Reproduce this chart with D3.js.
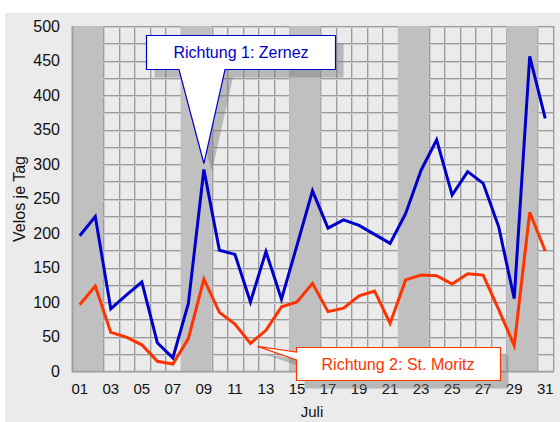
<!DOCTYPE html>
<html><head><meta charset="utf-8">
<script src="https://cdn.jsdelivr.net/npm/d3@7"></script>
<style>html,body{margin:0;padding:0;background:#fff;}svg{display:block;font-family:"Liberation Sans",Arial,sans-serif;}</style>
</head><body>
<svg id="c" width="560" height="422"></svg>
<script>
const days = ["01","02","03","04","05","06","07","08","09","10","11","12","13","14","15","16","17","18","19","20","21","22","23","24","25","26","27","28","29","30","31"];
const tickDays = ["01","03","05","07","09","11","13","15","17","19","21","23","25","27","29","31"];
const weekends = [["01","02"],["08","09"],["15","16"],["22","23"],["29","30"]];
const zernez = [196,224,90,110,129,41,19,98,292,175,169,100,173,104,182,261,207,219,211,198,185,228,291,335,255,289,272,209,105,456,366];
const moritz = [96,123,56,49,38,14,10,47,133,85,68,40,59,93,100,127,86,91,109,116,69,132,139,138,126,141,139,89,37,230,174];
const yTicks = [0,50,100,150,200,250,300,350,400,450,500];
const yGrid = [0,25,50,75,100,125,150,175,200,225,250,275,300,325,350,375,400,425,450,475,500];
const label1 = "Richtung 1: Zernez";
const label2 = "Richtung 2: St. Moritz";

const svg = d3.select("#c");
const L=72, R=553, T=26, B=371;
const x = d3.scaleBand().domain(days).range([L,R]).padding(0);
const y = d3.scaleLinear().domain([0,500]).range([B,T]);
const cx = d => x(d)+x.bandwidth()/2;

svg.append("rect").attr("x",5).attr("y",13).attr("width",555).attr("height",409).attr("fill","#ebebeb");
svg.append("rect").attr("x",L).attr("y",T).attr("width",R-L).attr("height",B-T).attr("fill","#ebebeb");

const g = svg.append("g");
const bounds = days.map(d=>x(d)).concat([R]);
bounds.forEach(v=>{
  g.append("line").attr("x1",Math.round(v)+1.5).attr("x2",Math.round(v)+1.5).attr("y1",T).attr("y2",B).attr("stroke","#cdcdcd").attr("stroke-width",1);
  g.append("line").attr("x1",Math.round(v)+0.5).attr("x2",Math.round(v)+0.5).attr("y1",T).attr("y2",B).attr("stroke","#9c9c9c").attr("stroke-width",1);
});
yGrid.forEach(v=>{
  const yy=Math.round(y(v));
  g.append("line").attr("x1",L).attr("x2",R).attr("y1",yy+1.5).attr("y2",yy+1.5).attr("stroke","#cdcdcd").attr("stroke-width",1);
  g.append("line").attr("x1",L).attr("x2",R).attr("y1",yy+0.5).attr("y2",yy+0.5).attr("stroke","#9c9c9c").attr("stroke-width",1);
});
weekends.forEach(w=>{
  g.append("rect").attr("x",x(w[0])).attr("y",T).attr("width",x(w[1])+x.bandwidth()-x(w[0])).attr("height",B-T).attr("fill","#c0c0c0");
});
g.append("line").attr("x1",L+0.5).attr("x2",L+0.5).attr("y1",T).attr("y2",B+1).attr("stroke","#a0a0a0").attr("stroke-width",2);
g.append("line").attr("x1",L).attr("x2",R+1).attr("y1",B+0.5).attr("y2",B+0.5).attr("stroke","#a0a0a0").attr("stroke-width",1.5);

svg.append("g").selectAll("text").data(yTicks).join("text")
  .attr("x",60).attr("y",d=>y(d)+5.5).attr("text-anchor","end").attr("font-size",16).attr("fill","#111").text(d=>d);
svg.append("g").selectAll("text").data(tickDays).join("text")
  .attr("x",d=>cx(d)).attr("y",394).attr("text-anchor","middle").attr("font-size",15).attr("fill","#111").text(d=>d);
svg.append("text").attr("x",312).attr("y",417).attr("text-anchor","middle").attr("font-size",15).attr("fill","#111").text("Juli");
svg.append("text").attr("transform","translate(25,199) rotate(-90)").attr("text-anchor","middle").attr("font-size",16).attr("fill","#111").text("Velos je Tag");

const line = d3.line().x((d,i)=>cx(days[i])).y(d=>y(d));
svg.append("path").datum(moritz).attr("d",line).attr("fill","none").attr("stroke","#ff3300").attr("stroke-width",3).attr("stroke-linejoin","miter");
svg.append("path").datum(zernez).attr("d",line).attr("fill","none").attr("stroke","#0000cc").attr("stroke-width",3).attr("stroke-linejoin","miter");

const tip1=[cx("09"), y(zernez[8])-6];
const p1 = `M146.5,35.5 H335.5 V69.5 H225 L${tip1[0]},${tip1[1]} L179,69.5 H146.5 Z`;
svg.append("path").attr("d",p1).attr("transform","translate(8,8)").attr("fill","#7a7a7a").attr("opacity",0.45);
svg.append("path").attr("d",p1).attr("fill","#fff").attr("stroke","#0000cc").attr("stroke-width",1.2);
svg.append("text").attr("x",241).attr("y",58).attr("text-anchor","middle").attr("font-size",16).attr("fill","#0000cc").text(label1);

const tip2=[cx("12")+7, y(moritz[11])+3];
const p2 = `M296.5,347.5 H500.5 V380.5 H296.5 V360 L${tip2[0]},${tip2[1]} L296.5,352 Z`;
svg.append("path").attr("d",p2).attr("transform","translate(8,8)").attr("fill","#7a7a7a").attr("opacity",0.45);
svg.append("path").attr("d",p2).attr("fill","#fff").attr("stroke","#ff3300").attr("stroke-width",1.2);
svg.append("text").attr("x",398).attr("y",369.5).attr("text-anchor","middle").attr("font-size",16).attr("fill","#ff3300").text(label2);
</script>
</body></html>
